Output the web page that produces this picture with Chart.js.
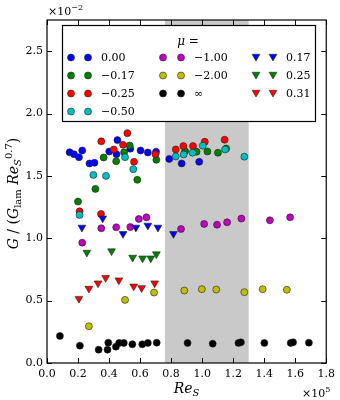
<!DOCTYPE html>
<html>
<head>
<meta charset="utf-8" />
<title>G / (G_lam Re_S^0.7) vs Re_S</title>
<script src="https://cdn.jsdelivr.net/npm/chart.js"></script>
<style>
  body { margin: 0; background: #fff; }
  canvas { display: block; }
</style>
</head>
<body>
<canvas id="chart" width="340" height="400"></canvas>
<script>
// Re_S in units of 1e5, G/(G_lam Re_S^0.7) in units of 1e-2
const reMu000 = [0.146, 0.174, 0.206, 0.227, 0.274, 0.306, 0.401, 0.448, 0.454, 0.537, 0.603, 0.650, 0.703, 0.788, 0.868, 0.981];
const gMu000  = [1.690, 1.674, 1.650, 1.704, 1.600, 1.605, 1.696, 1.674, 1.787, 1.718, 1.704, 1.688, 1.694, 1.636, 1.600, 1.613];

const reMuN017 = [0.200, 0.312, 0.365, 0.446, 0.497, 0.533, 0.582, 0.705, 0.890, 0.964, 1.034, 1.102, 1.155];
const gMuN017  = [1.294, 1.396, 1.648, 1.618, 1.690, 1.744, 1.469, 1.629, 1.698, 1.694, 1.696, 1.686, 1.720];

const reMuN025 = [0.210, 0.348, 0.350, 0.431, 0.490, 0.518, 0.561, 0.699, 0.830, 0.879, 0.941, 1.017, 1.145];
const gMuN025  = [1.216, 1.195, 1.777, 1.712, 1.750, 1.843, 1.613, 1.674, 1.712, 1.739, 1.739, 1.774, 1.790];

const reMuN050 = [0.210, 0.299, 0.380, 0.503, 0.556, 0.830, 0.881, 0.938, 1.004, 1.148, 1.272];
const gMuN050  = [1.187, 1.508, 1.500, 1.650, 1.554, 1.656, 1.672, 1.686, 1.742, 1.712, 1.654];

const reMuN100 = [0.227, 0.350, 0.446, 0.537, 0.592, 0.641, 0.864, 1.013, 1.096, 1.161, 1.253, 1.437, 1.567];
const gMuN100  = [0.965, 1.080, 1.088, 1.090, 1.155, 1.168, 1.074, 1.115, 1.109, 1.128, 1.158, 1.144, 1.168];

const reMuN200 = [0.270, 0.503, 0.690, 0.885, 0.998, 1.091, 1.272, 1.390, 1.546];
const gMuN200  = [0.295, 0.506, 0.565, 0.581, 0.592, 0.589, 0.568, 0.592, 0.587];

const reMuInf = [0.083, 0.212, 0.333, 0.390, 0.395, 0.444, 0.465, 0.495, 0.550, 0.614, 0.650, 0.707, 0.906, 1.068, 1.234, 1.250, 1.401, 1.571, 1.586, 1.688];
const gMuInf  = [0.217, 0.139, 0.107, 0.107, 0.163, 0.131, 0.161, 0.161, 0.150, 0.150, 0.161, 0.163, 0.161, 0.155, 0.161, 0.166, 0.161, 0.161, 0.166, 0.163];

const reMu017 = [0.225, 0.359, 0.490, 0.573, 0.650, 0.715, 0.815];
const gMu017  = [1.087, 1.160, 1.036, 1.087, 1.103, 1.087, 1.036];

const reMu025 = [0.257, 0.416, 0.552, 0.616, 0.669, 0.705];
const gMu025  = [0.886, 0.897, 0.846, 0.840, 0.840, 0.873];

const reMu031 = [0.206, 0.270, 0.329, 0.378, 0.463, 0.559, 0.610, 0.694];
const gMu031  = [0.516, 0.597, 0.640, 0.683, 0.664, 0.615, 0.602, 0.640];

const muLabels = ['0.00', '\u22120.17', '\u22120.25', '\u22120.50', '\u22121.00', '\u22122.00', '\u221e', '0.17', '0.25', '0.31'];
const reSets = [reMu000, reMuN017, reMuN025, reMuN050, reMuN100, reMuN200, reMuInf, reMu017, reMu025, reMu031];
const gSets  = [gMu000, gMuN017, gMuN025, gMuN050, gMuN100, gMuN200, gMuInf, gMu017, gMu025, gMu031];

const xTickValues = [0, 0.2, 0.4, 0.6, 0.8, 1.0, 1.2, 1.4, 1.6, 1.8];
const yTickValues = [0, 0.5, 1.0, 1.5, 2.0, 2.5];
const shadeRange = [0.76, 1.3];

const colors = ['#0000ff', '#008000', '#ff0000', '#00bfbf', '#bf00bf', '#bfbf00', '#000000', '#0000ff', '#008000', '#ff0000'];
const markers = ['circle', 'circle', 'circle', 'circle', 'circle', 'circle', 'circle', 'triangle', 'triangle', 'triangle'];

const SERIF = '"DejaVu Serif", serif';

function markerOpts(i) {
  const tri = markers[i] === 'triangle';
  return { pointStyle: markers[i], radius: tri ? 4.5 : 3.5, rotation: tri ? 180 : 0, borderWidth: 0.6 };
}

const datasets = reSets.map((xs, i) => {
  const m = markerOpts(i);
  return {
    label: muLabels[i],
    data: xs.map((x, k) => ({ x: x, y: gSets[i][k] })),
    showLine: false,
    order: reSets.length - i,
    pointStyle: m.pointStyle,
    pointRadius: m.radius,
    pointRotation: m.rotation,
    pointBorderWidth: m.borderWidth,
    pointBorderColor: '#222',
    pointBackgroundColor: colors[i],
    backgroundColor: colors[i]
  };
});

// draws text made of pieces [text, font, dy]
function drawRich(ctx, parts, x, y, align) {
  let w = 0;
  parts.forEach(p => { ctx.font = p[1]; w += ctx.measureText(p[0]).width; });
  let cx = align === 'center' ? x - w / 2 : (align === 'right' ? x - w : x);
  ctx.textAlign = 'left';
  ctx.textBaseline = 'alphabetic';
  parts.forEach(p => {
    ctx.font = p[1];
    ctx.fillText(p[0], cx, y + (p[2] || 0));
    cx += ctx.measureText(p[0]).width;
  });
}

const shadePlugin = {
  id: 'shade',
  beforeDatasetsDraw(chart) {
    const { ctx, chartArea: a, scales: { x } } = chart;
    const x0 = x.getPixelForValue(shadeRange[0]);
    const x1 = x.getPixelForValue(shadeRange[1]);
    ctx.save();
    ctx.fillStyle = '#c9c9c9';
    ctx.fillRect(x0, a.top, x1 - x0, a.bottom - a.top);
    ctx.restore();
  }
};

const framePlugin = {
  id: 'frame',
  afterDatasetsDraw(chart) {
    const { ctx, chartArea: a, scales: { x, y } } = chart;
    const L = 5;
    ctx.save();
    ctx.strokeStyle = '#000';
    ctx.lineWidth = 1;
    ctx.beginPath();
    x.ticks.forEach(t => {
      const px = Math.round(x.getPixelForValue(t.value)) + 0.5;
      ctx.moveTo(px, a.bottom); ctx.lineTo(px, a.bottom - L);
      ctx.moveTo(px, a.top); ctx.lineTo(px, a.top + L);
    });
    y.ticks.forEach(t => {
      const py = Math.round(y.getPixelForValue(t.value)) + 0.5;
      ctx.moveTo(a.left, py); ctx.lineTo(a.left + L, py);
      ctx.moveTo(a.right, py); ctx.lineTo(a.right - L, py);
    });
    ctx.stroke();
    ctx.lineWidth = 1.2;
    ctx.strokeRect(a.left, a.top, a.right - a.left, a.bottom - a.top);
    ctx.restore();
  }
};

const legendPlugin = {
  id: 'muLegend',
  afterDraw(chart) {
    const ctx = chart.ctx;
    const box = { x: 62, y: 25, w: 253, h: 96 };
    const rows = [57.5, 75.5, 93.5, 111.5];
    const cols = [{ m1: 71, m2: 88, tx: 101 }, { m1: 163, m2: 181, tx: 194 }, { m1: 256, m2: 273, tx: 286 }];
    const perCol = [4, 3, 3];
    ctx.save();
    ctx.fillStyle = '#fff';
    ctx.fillRect(box.x, box.y, box.w, box.h);
    ctx.strokeStyle = '#000';
    ctx.lineWidth = 1.2;
    ctx.strokeRect(box.x + 0.5, box.y + 0.5, box.w, box.h);
    ctx.fillStyle = '#000';
    drawRich(ctx, [['\u03bc', 'italic 12px ' + SERIF], [' =', '12px ' + SERIF]], 188, 45, 'center');
    let idx = 0;
    perCol.forEach((n, c) => {
      for (let r = 0; r < n; r++, idx++) {
        const yy = rows[r];
        const m = markerOpts(idx);
        ctx.fillStyle = colors[idx];
        ctx.strokeStyle = '#222';
        ctx.lineWidth = m.borderWidth;
        [cols[c].m1, cols[c].m2].forEach(mx => {
          const dy = m.pointStyle === 'triangle' ? -1 : 0;
          Chart.helpers.drawPoint(ctx, m, mx, yy + dy);
        });
        ctx.fillStyle = '#000';
        ctx.font = '11px ' + SERIF;
        ctx.textAlign = 'left';
        ctx.textBaseline = 'middle';
        ctx.fillText(muLabels[idx], cols[c].tx, yy + 1);
      }
    });
    ctx.restore();
  }
};

const labelsPlugin = {
  id: 'axisLabels',
  afterDraw(chart) {
    const { ctx, chartArea: a } = chart;
    const big = 14, small = 10;
    ctx.save();
    ctx.fillStyle = '#000';
    // x axis title
    drawRich(ctx, [['Re', 'italic ' + big + 'px ' + SERIF], ['S', 'italic ' + small + 'px ' + SERIF, 3]],
      (a.left + a.right) / 2, 393, 'center');
    // y axis title
    ctx.save();
    ctx.translate(18, (a.top + a.bottom) / 2 + 2);
    ctx.rotate(-Math.PI / 2);
    drawRich(ctx, [
      ['G', 'italic ' + big + 'px ' + SERIF],
      [' / (', big + 'px ' + SERIF],
      ['G', 'italic ' + big + 'px ' + SERIF],
      ['lam', small + 'px ' + SERIF, 3],
      [' ', big + 'px ' + SERIF],
      ['Re', 'italic ' + big + 'px ' + SERIF],
      ['S', 'italic ' + small + 'px ' + SERIF, 3],
      ['0.7', small + 'px ' + SERIF, -6],
      [')', big + 'px ' + SERIF]
    ], 0, 0, 'center');
    ctx.restore();
    // offset labels
    drawRich(ctx, [['\u00d710', '11px ' + SERIF], ['\u22122', '8px ' + SERIF, -5]], 48, 15, 'left');
    drawRich(ctx, [['\u00d710', '11px ' + SERIF], ['5', '8px ' + SERIF, -5]], 302, 397, 'left');
    ctx.restore();
  }
};

const tickFont = { family: SERIF, size: 11 };

new Chart(document.getElementById('chart'), {
  type: 'scatter',
  data: { datasets: datasets },
  options: {
    responsive: false,
    animation: false,
    devicePixelRatio: 1,
    layout: { padding: { top: 20, right: 10, left: 0, bottom: 0 } },
    plugins: { legend: { display: false }, tooltip: { enabled: false } },
    scales: {
      x: {
        type: 'linear', min: 0, max: 1.8,
        grid: { display: false, drawTicks: false },
        border: { display: false },
        ticks: { font: tickFont, color: '#000', padding: 5, maxRotation: 0, autoSkip: false,
                 callback: v => v.toFixed(1) },
        afterBuildTicks: s => { s.ticks = xTickValues.map(v => ({ value: v })); },
        afterFit: s => { s.height = 37; }
      },
      y: {
        type: 'linear', min: 0, max: 2.75,
        grid: { display: false, drawTicks: false },
        border: { display: false },
        ticks: { font: tickFont, color: '#000', padding: 4, autoSkip: false,
                 callback: v => v.toFixed(1) },
        afterBuildTicks: s => { s.ticks = yTickValues.map(v => ({ value: v })); },
        afterFit: s => { s.width = 47; }
      }
    }
  },
  plugins: [shadePlugin, framePlugin, legendPlugin, labelsPlugin]
});
</script>
</body>
</html>
